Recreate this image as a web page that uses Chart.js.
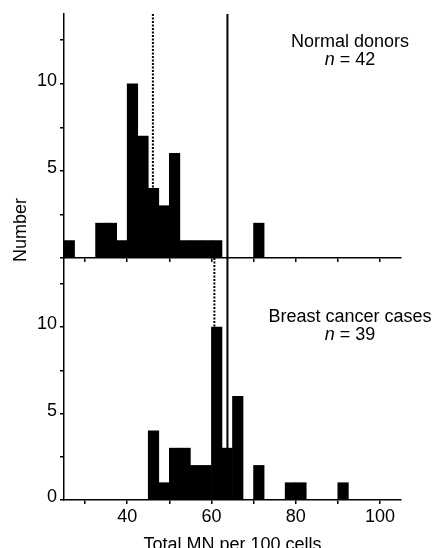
<!DOCTYPE html>
<html>
<head>
<meta charset="utf-8">
<script src="https://cdn.jsdelivr.net/npm/chart.js@4.4.1/dist/chart.umd.min.js"></script>
<style>
  html, body { margin: 0; padding: 0; background: #fff; }
  #wrap { position: relative; width: 435px; height: 548px; overflow: hidden; }
  #wrap canvas { position: absolute; left: 0; top: 0; }
</style>
</head>
<body>
<div id="wrap">
  <canvas id="topChart" width="435" height="548"></canvas>
  <canvas id="bottomChart" width="435" height="548"></canvas>
</div>
<script>
// histogram bins are 2.5 MN wide, these are the bin centres
const binCentres = [26.25, 28.75, 31.25, 33.75, 36.25, 38.75, 41.25, 43.75, 46.25,
    48.75, 51.25, 53.75, 56.25, 58.75, 61.25, 63.75, 66.25, 68.75, 71.25,
    73.75, 76.25, 78.75, 81.25, 83.75, 86.25, 88.75, 91.25];
const normalCounts = [1, 0, 0, 2, 2, 1, 10, 7, 4, 3, 6, 1, 1, 1, 1, 0, 0, 0, 2,
    0, 0, 0, 0, 0, 0, 0, 0];
const cancerCounts = [0, 0, 0, 0, 0, 0, 0, 0, 4, 1, 3, 3, 2, 2, 10, 3, 6, 0, 2,
    0, 0, 1, 1, 0, 0, 0, 1];

// mean of each group (dotted) and the cut-off (solid)
const normalMean = 46.1;
const cancerMean = 60.7;
const cutOff = 63.8;

const xTickValues = [30, 40, 50, 60, 70, 80, 90, 100];
const xTickLabels = [40, 60, 80, 100];
const topYTickLabels = [5, 10];
const bottomYTickLabels = [0, 5, 10];

const FONT = '"Liberation Sans", Arial, Helvetica, sans-serif';
const BIN = 2.5;
const Y_MAX = 14;

function countAt(counts, value) {
    const i = binCentres.findIndex(c => value >= c - BIN / 2 && value < c + BIN / 2);
    return i < 0 ? 0 : counts[i];
}

// group name + italic n, and the rotated "Number" title
const panelText = {
    id: 'panelText',
    afterDraw(chart, args, o) {
        const ctx = chart.ctx;
        ctx.save();
        ctx.fillStyle = '#000';
        ctx.textBaseline = 'alphabetic';
        ctx.font = '18px ' + FONT;
        ctx.textAlign = 'center';
        ctx.fillText(o.name, o.x, o.y);

        const rest = ' = ' + o.n;
        ctx.font = 'italic 18px ' + FONT;
        const wN = ctx.measureText('n').width;
        ctx.font = '18px ' + FONT;
        const wRest = ctx.measureText(rest).width;
        let x0 = o.x - (wN + wRest) / 2;
        ctx.textAlign = 'left';
        ctx.font = 'italic 18px ' + FONT;
        ctx.fillText('n', x0, o.y + 18);
        ctx.font = '18px ' + FONT;
        ctx.fillText(rest, x0 + wN, o.y + 18);

        if (o.yTitle) {
            ctx.translate(26, 230);
            ctx.rotate(-Math.PI / 2);
            ctx.textAlign = 'center';
            ctx.fillText(o.yTitle, 0, 0);
        }
        ctx.restore();
    }
};

function makePanel(id, counts, mean, name, textY, isBottom) {
    const n = counts.reduce((a, b) => a + b, 0);
    const yLabels = isBottom ? bottomYTickLabels : topYTickLabels;
    return new Chart(document.getElementById(id), {
        type: 'bar',
        data: {
            datasets: [
                {
                    type: 'line',
                    data: [{x: mean, y: Y_MAX}, {x: mean, y: countAt(counts, mean)}],
                    borderColor: '#000',
                    borderWidth: 2,
                    borderDash: [2, 1.5],
                    pointRadius: 0
                },
                {
                    type: 'line',
                    data: [{x: cutOff, y: Y_MAX}, {x: cutOff, y: countAt(counts, cutOff)}],
                    borderColor: '#000',
                    borderWidth: 2,
                    pointRadius: 0
                },
                {
                    data: binCentres.map((c, i) => ({x: c, y: counts[i]})),
                    backgroundColor: '#000',
                    borderWidth: 0,
                    barPercentage: 1,
                    categoryPercentage: 1
                }
            ]
        },
        options: {
            responsive: false,
            animation: false,
            events: [],
            layout: {
                padding: isBottom ? {top: 258, right: 34, bottom: 0, left: 0}
                                  : {top: 14, right: 34, bottom: 280, left: 0}
            },
            plugins: {
                legend: {display: false},
                tooltip: {enabled: false},
                panelText: {name: name, n: n, x: 350, y: textY, yTitle: isBottom ? 'Number' : null}
            },
            scales: {
                x: {
                    type: 'linear',
                    min: 25,
                    max: 105,
                    offset: false,
                    afterBuildTicks: s => { s.ticks = xTickValues.map(v => ({value: v})); },
                    afterFit: s => { s.height = isBottom ? 48 : 10; },
                    grid: {offset: false, drawOnChartArea: false, tickLength: 4, color: '#000', lineWidth: 1.5},
                    border: {color: '#000', width: 1.5},
                    ticks: {
                        autoSkip: false,
                        maxRotation: 0,
                        padding: 2,
                        color: '#000',
                        font: {family: FONT, size: 18},
                        callback: v => (isBottom && xTickLabels.includes(v)) ? v : ''
                    },
                    title: {
                        display: isBottom,
                        text: 'Total MN per 100 cells',
                        color: '#000',
                        font: {family: FONT, size: 18, lineHeight: 1},
                        padding: {top: 0, bottom: -6}
                    }
                },
                y: {
                    min: 0,
                    max: Y_MAX,
                    afterFit: s => { s.width = 64; },
                    grid: {drawOnChartArea: false, tickLength: 4, color: '#000', lineWidth: 1.5},
                    border: {color: '#000', width: 1.5},
                    ticks: {
                        stepSize: 2.5,
                        includeBounds: false,
                        autoSkip: false,
                        padding: 3,
                        labelOffset: -3,
                        color: '#000',
                        font: {family: FONT, size: 18},
                        callback: v => yLabels.includes(v) ? v : ''
                    }
                }
            }
        },
        plugins: [panelText]
    });
}

makePanel('topChart', normalCounts, normalMean, 'Normal donors', 47, false);
makePanel('bottomChart', cancerCounts, cancerMean, 'Breast cancer cases', 322, true);
</script>
</body>
</html>
